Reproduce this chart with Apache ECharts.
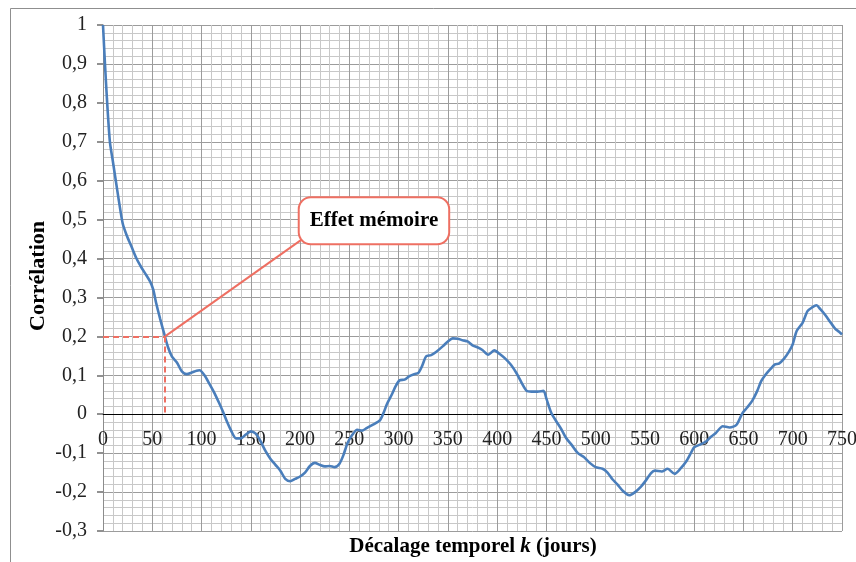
<!DOCTYPE html>
<html>
<head>
<meta charset="utf-8">
<script src="https://cdn.jsdelivr.net/npm/echarts@6/dist/echarts.min.js"></script>
<style>
html,body{margin:0;padding:0;background:#fff;}
#chart{width:856px;height:562px;}
</style>
</head>
<body>
<div id="chart"></div>
<script>
// Lag (days) and correlation values
const lags = [0,2,4,7,10,13,16,20,24,29,34,39,44,48,51,54,58,62,66,70,75,80,85,90,95,98,103,108,113,118,122,126,130,135,140,145,150,155,160,165,170,175,180,185,190,195,200,205,210,215,220,225,230,235,240,244,248,253,258,263,268,274,281,285,288,293,297,301,306,311,316,320,324,328,333,338,345,350,355,360,365,370,375,380,385,391,397,403,409,414,420,425,430,435,441,447,450,455,460,465,470,476,482,488,494,500,507,512,517,522,528,534,540,546,551,556,560,567,573,580,586,592,597,600,606,612,617,622,629,636,643,649,654,659,664,668,672,677,682,686,691,696,700,704,710,715,720,724,728,733,738,743,747,750];
const corr = [1.00,0.90,0.81,0.70,0.65,0.60,0.55,0.49,0.46,0.43,0.40,0.377,0.357,0.34,0.32,0.285,0.245,0.208,0.172,0.148,0.133,0.11,0.103,0.107,0.112,0.113,0.10,0.078,0.055,0.028,0.005,-0.02,-0.042,-0.062,-0.062,-0.052,-0.044,-0.05,-0.07,-0.095,-0.115,-0.13,-0.145,-0.166,-0.172,-0.166,-0.16,-0.15,-0.133,-0.125,-0.13,-0.134,-0.133,-0.136,-0.127,-0.105,-0.075,-0.053,-0.04,-0.042,-0.035,-0.027,-0.016,0.005,0.025,0.05,0.072,0.087,0.089,0.098,0.103,0.106,0.125,0.149,0.152,0.16,0.175,0.187,0.195,0.194,0.19,0.187,0.177,0.172,0.165,0.153,0.164,0.154,0.141,0.127,0.104,0.08,0.06,0.058,0.058,0.06,0.04,0.003,-0.018,-0.038,-0.061,-0.08,-0.1,-0.11,-0.125,-0.136,-0.14,-0.15,-0.167,-0.18,-0.198,-0.208,-0.2,-0.186,-0.17,-0.152,-0.145,-0.147,-0.14,-0.153,-0.14,-0.121,-0.098,-0.085,-0.078,-0.07,-0.058,-0.048,-0.031,-0.034,-0.027,0.003,0.018,0.035,0.06,0.085,0.1,0.115,0.128,0.13,0.142,0.16,0.18,0.214,0.235,0.265,0.275,0.28,0.27,0.255,0.237,0.22,0.212,0.205];

// Axis settings
const xMin = 0, xMax = 750, xStep = 50;
const yMin = -0.3, yMax = 1, yStep = 0.1;

// Annotation ("memory effect") in data coordinates
const memoryPoint = [63, 0.2];
const calloutLineEnd = [203, 0.451];
const calloutCenter = [275, 0.497];
const calloutText = 'Effet mémoire';

const xTitle = '{b|Décalage temporel }{i|k}{b| (jours)}';
const yTitle = 'Corrélation';

const red = '#ee6f62';
const blue = '#4a7ebb';
const serif = '"Liberation Serif","Times New Roman",serif';

const W = 856, H = 562;
const gridBox = {left: 103, right: 14, top: 25, bottom: 31};
const plotH = H - gridBox.top - gridBox.bottom;
// place the x axis (line + labels) on the zero line
const zeroOffset = -plotH * (0 - yMin) / (yMax - yMin);

const chart = echarts.init(document.getElementById('chart'), null, {renderer: 'canvas', width: W, height: H});

const seriesData = lags.map((k, i) => [k, corr[i]]);

chart.setOption({
  animation: false,
  backgroundColor: '#fff',
  grid: Object.assign({containLabel: false, outerBoundsMode: 'none'}, gridBox),
  xAxis: {
    type: 'value', min: xMin, max: xMax, interval: xStep,
    position: 'bottom',
    offset: zeroOffset,
    axisLine: {show: true, onZero: false, lineStyle: {color: '#000', width: 1}},
    axisTick: {show: false},
    axisLabel: {fontFamily: serif, fontSize: 20, color: '#222', margin: 16},
    splitLine: {show: true, lineStyle: {color: '#9c9c9c', width: 1}},
    minorTick: {show: false, splitNumber: 5},
    minorSplitLine: {show: true, lineStyle: {color: '#c8c8c8', width: 1}}
  },
  yAxis: {
    type: 'value', min: yMin, max: yMax, interval: yStep,
    axisLine: {show: true, onZero: false, lineStyle: {color: '#8c8c8c', width: 1}},
    axisTick: {show: true, inside: false, length: 6, lineStyle: {color: '#6d6d6d', width: 1.5}},
    axisLabel: {
      fontFamily: serif, fontSize: 20, color: '#222', margin: 16,
      formatter: v => String(Math.round(v * 10) / 10).replace('.', ',')
    },
    splitLine: {show: true, lineStyle: {color: '#9c9c9c', width: 1}},
    minorTick: {show: false, splitNumber: 5},
    minorSplitLine: {show: true, lineStyle: {color: '#c8c8c8', width: 1}}
  },
  series: [{
    type: 'line',
    data: seriesData,
    showSymbol: false,
    symbol: 'none',
    smooth: 0.25,
    lineStyle: {color: blue, width: 2.6},
    z: 3,
    markLine: {
      silent: true,
      symbol: ['none', 'none'],
      label: {show: false},
      z: 4,
      data: [
        [{coord: [xMin, memoryPoint[1]], lineStyle: {color: red, width: 2, type: [6, 4]}}, {coord: memoryPoint}],
        [{coord: memoryPoint, lineStyle: {color: red, width: 2, type: [6, 4]}}, {coord: [memoryPoint[0], 0]}],
        [{coord: memoryPoint, lineStyle: {color: red, width: 2, type: 'solid'}}, {coord: calloutLineEnd}]
      ]
    },
    markPoint: {
      silent: true,
      symbol: 'circle',
      symbolSize: 1,
      itemStyle: {color: 'rgba(0,0,0,0)'},
      z: 5,
      data: [{
        coord: calloutCenter,
        label: {
          show: true, position: 'inside', formatter: calloutText,
          fontFamily: serif, fontWeight: 'bold', fontSize: 21, color: '#000',
          backgroundColor: '#fff', borderColor: red, borderWidth: 2, borderRadius: 11,
          padding: [13, 10, 11, 10]
        }
      }]
    }
  }],
  graphic: [
    {type: 'rect', silent: true, shape: {x: 10.5, y: 8.5, width: 900, height: 600},
     style: {fill: 'none', stroke: '#8f8f8f', lineWidth: 1}, z: 100},
    {type: 'text', silent: true, x: 473, y: 547,
     style: {text: xTitle, align: 'center', verticalAlign: 'middle',
       rich: {
         b: {fontFamily: serif, fontWeight: 'bold', fontSize: 21, fill: '#000', color: '#000'},
         i: {fontFamily: serif, fontWeight: 'bold', fontStyle: 'italic', fontSize: 21, fill: '#000', color: '#000'}
       }}},
    {type: 'text', silent: true, x: 38, y: 276, rotation: Math.PI / 2,
     style: {text: yTitle, align: 'center', verticalAlign: 'middle',
       font: 'bold 22px ' + serif, fill: '#000'}}
  ]
});
</script>
</body>
</html>
